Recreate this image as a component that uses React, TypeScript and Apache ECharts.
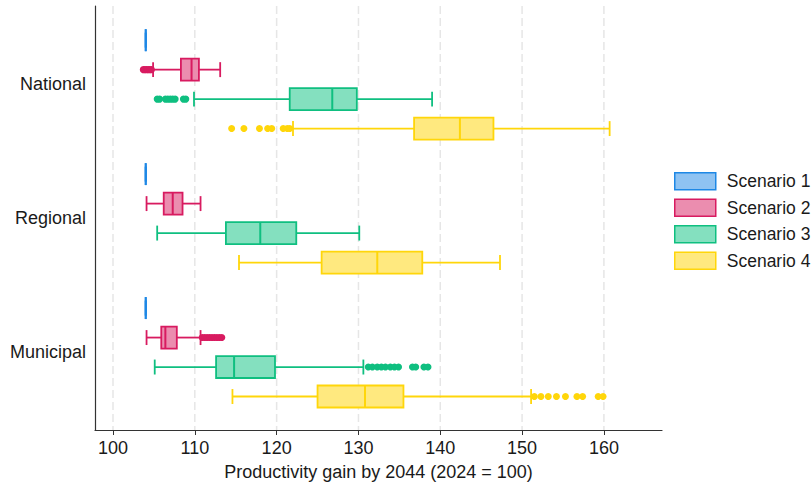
import React, { useEffect, useRef } from "react";
import * as echarts from "echarts";

const regions = ["National", "Regional", "Municipal"];
const scenarioNames = ["Scenario 1", "Scenario 2", "Scenario 3", "Scenario 4"];
const xTicks = [100, 110, 120, 130, 140, 150, 160];
const axisTitle = "Productivity gain by 2044 (2024 = 100)";

// [lower whisker, Q1, median, Q3, upper whisker] for National, Regional, Municipal
const scenario1Stats = [
  [104.0, 104.0, 104.0, 104.0, 104.0],
  [104.0, 104.0, 104.0, 104.0, 104.0],
  [104.0, 104.0, 104.0, 104.0, 104.0],
];
const scenario2Stats = [
  [104.9, 108.3, 109.6, 110.5, 113.1],
  [104.1, 106.2, 107.3, 108.5, 110.7],
  [104.1, 105.9, 106.4, 107.8, 110.7],
];
const scenario3Stats = [
  [109.9, 121.6, 126.8, 129.8, 139.0],
  [105.4, 113.8, 118.0, 122.4, 130.1],
  [105.1, 112.6, 114.8, 119.8, 130.6],
];
const scenario4Stats = [
  [122.0, 136.8, 142.4, 146.5, 160.7],
  [115.4, 125.5, 132.3, 137.8, 147.3],
  [114.6, 125.0, 130.8, 135.5, 151.1],
];

// outliers for National, Regional, Municipal
const scenario1Outliers: number[][] = [[], [], []];
const scenario2Outliers = [
  [103.7, 103.9, 104.1, 104.3, 104.5, 104.7],
  [],
  [110.9, 111.2, 111.5, 111.8, 112.1, 112.4, 112.7, 113.0, 113.3],
];
const scenario3Outliers = [
  [105.4, 105.7, 106.4, 106.7, 107.0, 107.3, 107.6, 108.6, 108.9],
  [],
  [131.2, 131.7, 132.3, 132.8, 133.3, 133.9, 134.4, 134.9, 136.6, 137.0, 138.0, 138.5],
];
const scenario4Outliers = [
  [114.5, 116.0, 117.9, 118.9, 119.4, 120.8, 121.3, 121.6],
  [],
  [151.5, 152.3, 153.2, 154.2, 155.3, 156.7, 157.4, 159.3, 159.9],
];

const strokes = ["#1E88E5", "#D81B60", "#0FBF80", "#FFD60A"];
const fills = ["#8FC3F2", "#EB8DAF", "#84E0BF", "#FFE97F"];
const OFFSETS = [-0.33, -0.11, 0.11, 0.33];
const BOX_H = 0.164;
const FONT = "'Liberation Sans', Arial, sans-serif";
const TEXT = "#1a1a1a";

export default function App() {
  const ref = useRef<HTMLDivElement>(null);
  useEffect(() => {
    if (!ref.current) return;
    const chart = echarts.init(ref.current, undefined, { renderer: "svg" });
    const statsAll = [scenario1Stats, scenario2Stats, scenario3Stats, scenario4Stats];
    const outAll = [scenario1Outliers, scenario2Outliers, scenario3Outliers, scenario4Outliers];

    const boxSeries = scenarioNames.map((name, s) => ({
      type: "custom",
      name,
      z: 3,
      encode: { x: [1, 2, 3, 4, 5], y: 0 },
      itemStyle: { color: fills[s], borderColor: strokes[s] },
      data: statsAll[s].map((st, g) => [g, ...st]),
      renderItem: (params: any, api: any) => {
        const g = api.value(0);
        const yc = g + OFFSETS[s];
        const lo = api.coord([api.value(1), yc]);
        const y = lo[1];
        const xLo = lo[0];
        const xQ1 = api.coord([api.value(2), yc])[0];
        const xMed = api.coord([api.value(3), yc])[0];
        const xQ3 = api.coord([api.value(4), yc])[0];
        const xHi = api.coord([api.value(5), yc])[0];
        const h = Math.abs(api.size([0, BOX_H])[1]);
        const cap = h * 0.68;
        const ls = { stroke: strokes[s], lineWidth: 1.8 };
        return {
          type: "group",
          children: [
            { type: "line", shape: { x1: xLo, y1: y, x2: xQ1, y2: y }, style: ls },
            { type: "line", shape: { x1: xQ3, y1: y, x2: xHi, y2: y }, style: ls },
            { type: "line", shape: { x1: xLo, y1: y - cap / 2, x2: xLo, y2: y + cap / 2 }, style: ls },
            { type: "line", shape: { x1: xHi, y1: y - cap / 2, x2: xHi, y2: y + cap / 2 }, style: ls },
            {
              type: "rect",
              shape: { x: xQ1, y: y - h / 2, width: xQ3 - xQ1, height: h },
              style: { fill: fills[s], stroke: strokes[s], lineWidth: 1.8 },
            },
            { type: "line", shape: { x1: xMed, y1: y - h / 2, x2: xMed, y2: y + h / 2 }, style: { stroke: strokes[s], lineWidth: 2 } },
          ],
        };
      },
    }));

    const outlierSeries = scenarioNames.map((name, s) => ({
      type: "scatter",
      name,
      z: 4,
      symbol: "circle",
      symbolSize: 7,
      itemStyle: { color: strokes[s], opacity: 1 },
      data: outAll[s].flatMap((vals, g) => vals.map((v) => [v, g + OFFSETS[s]])),
    }));

    const gridSeries = {
      type: "custom",
      name: "grid",
      z: 1,
      silent: true,
      encode: { x: 0 },
      data: xTicks.map((v) => [v]),
      renderItem: (params: any, api: any) => {
        const x = api.coord([api.value(0), 0])[0];
        const cs = params.coordSys;
        return {
          type: "line",
          shape: { x1: x, y1: cs.y, x2: x, y2: cs.y + cs.height },
          style: { stroke: "#E6E6E6", lineWidth: 1.5, lineDash: [8, 4] },
        };
      },
    };

    chart.setOption({
      animation: false,
      backgroundColor: "#ffffff",
      grid: { left: 95, right: 150, top: 6, bottom: 54, containLabel: false, outerBoundsMode: "none" },
      legend: {
        orient: "vertical",
        left: 674,
        top: 172,
        padding: 0,
        itemWidth: 41,
        itemHeight: 17,
        itemGap: 8,
        selectedMode: false,
        textStyle: { fontSize: 17.5, color: TEXT, fontFamily: FONT, padding: [0, 0, 0, 6], lineHeight: 17 },
        data: scenarioNames.map((n, i) => ({
          name: n,
          icon: "rect",
          itemStyle: { color: fills[i], borderColor: strokes[i], borderWidth: 1.5 },
        })),
      },
      xAxis: {
        type: "value",
        min: 97.8,
        max: 167.1,
        name: axisTitle,
        nameLocation: "middle",
        nameGap: 33,
        nameTextStyle: { fontSize: 18, color: TEXT, fontFamily: FONT },
        axisLine: { show: true, onZero: false, lineStyle: { color: "#333", width: 1.2 } },
        axisTick: { show: true, length: 5, lineStyle: { color: "#333" }, customValues: xTicks },
        axisLabel: { fontSize: 18, color: TEXT, fontFamily: FONT, margin: 9, customValues: xTicks },
        splitLine: { show: false },
      },
      yAxis: {
        type: "value",
        inverse: true,
        min: -0.585,
        max: 2.58,
        axisLine: { show: true, onZero: false, lineStyle: { color: "#333", width: 1.2 } },
        axisTick: { show: false },
        axisLabel: {
          fontSize: 18,
          color: TEXT,
          fontFamily: FONT,
          margin: 9,
          customValues: [0, 1, 2],
          formatter: (v: number) => regions[Math.round(v)] ?? "",
        },
        splitLine: { show: false },
      },
      series: [gridSeries, ...boxSeries, ...outlierSeries],
    });
    return () => chart.dispose();
  }, []);
  return <div ref={ref} style={{ position: "fixed", left: 0, top: 0, width: 812, height: 484 }} />;
}
